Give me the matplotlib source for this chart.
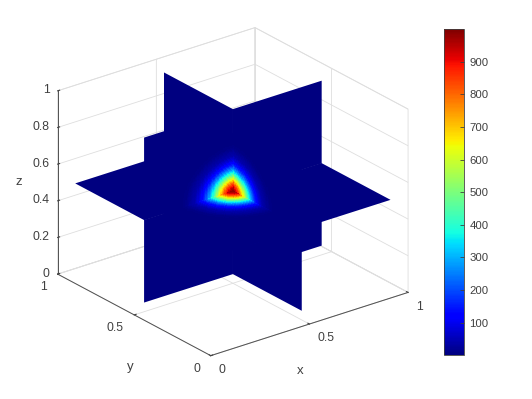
from matplotlib import pyplot as plt
from matplotlib.cm import ScalarMappable
from matplotlib.colors import Normalize
import numpy as np

plt.rcParams['font.family'] = ['Liberation Sans', 'DejaVu Sans']
plt.rcParams['font.size'] = 8.8

# field value against distance from the centre
dist = [0.0, 0.025, 0.05, 0.075, 0.1, 0.125, 0.15, 0.175, 0.2, 0.25, 0.3, 0.8]
field = [1000, 950, 815, 630, 440, 280, 160, 85, 40, 6, 1, 1]

# slice planes and the extent of the data
slice_pos = 0.5
lo = 0.05
hi = 0.95

x_ticks = [0, 0.5, 1]
y_ticks = [0, 0.5, 1]
z_ticks = [0, 0.2, 0.4, 0.6, 0.8, 1]
cbar_ticks = [100, 200, 300, 400, 500, 600, 700, 800, 900]

W, H = 532, 399
TXT = '#404040'
GRID = '#dedede'

norm = Normalize(1, 1000)
cmap = plt.get_cmap('jet')

fig = plt.figure(figsize=(W / 100, H / 100), dpi=100)
side = 398
ax = fig.add_axes([(227.5 - side / 2) / W, (H - 197 - side / 2) / H, side / W, side / H],
                  projection='3d', proj_type='ortho', computed_zorder=False)
ax.view_init(elev=24.4, azim=-127.8)
ax.set_box_aspect((1, 1, 0.806), zoom=0.9915)
ax.set_xlim(0, 1, view_margin=0)
ax.set_ylim(0, 1, view_margin=0)
ax.set_zlim(0, 1, view_margin=0)


def plane_coords(axis, a, b):
	A, B = np.meshgrid(a, b)
	P = np.full(A.shape, slice_pos)
	if axis == 'x':
		return P, A, B
	if axis == 'y':
		return A, P, B
	return A, B, P


def draw_quadrant(axis, a_range, b_range, order):
	# one quarter of a slice plane, a and b are the two free coordinates
	X, Y, Z = plane_coords(axis, a_range, b_range)
	base = cmap(norm(field[-1]))
	ax.plot_surface(X, Y, Z, color=base, shade=False, linewidth=0, antialiased=True, zorder=order)
	# finer cells only near the centre, further out the field is flat
	a0 = max(a_range[0], slice_pos - dist[-2])
	a1 = min(a_range[1], slice_pos + dist[-2])
	b0 = max(b_range[0], slice_pos - dist[-2])
	b1 = min(b_range[1], slice_pos + dist[-2])
	X, Y, Z = plane_coords(axis, np.linspace(a0, a1, 45), np.linspace(b0, b1, 45))
	r = np.sqrt((X - slice_pos) ** 2 + (Y - slice_pos) ** 2 + (Z - slice_pos) ** 2)
	r = 0.25 * (r[:-1, :-1] + r[1:, :-1] + r[:-1, 1:] + r[1:, 1:])
	colors = cmap(norm(np.interp(r, dist, field)))
	surf = ax.plot_surface(X, Y, Z, facecolors=colors, rstride=1, cstride=1, shade=False,
	                       linewidth=0.5, antialiased=False, zorder=order)
	surf.set_edgecolor(colors.reshape(-1, 4))


# camera looks from low x, low y, high z: quarters with more near sides go last
low = (lo, slice_pos)
high = (slice_pos, hi)
pieces = []
for axis in 'xyz':
	for a_range in (low, high):
		for b_range in (low, high):
			if axis == 'z':
				count = (a_range is low) + (b_range is low)
			else:
				count = (a_range is low) + (b_range is high)
			pieces.append((count, axis, a_range, b_range))
for count, axis, a_range, b_range in sorted(pieces, key=lambda p: p[0]):
	draw_quadrant(axis, a_range, b_range, 5 + count)

ax.set_xticks(x_ticks)
ax.set_yticks(y_ticks)
ax.set_zticks(z_ticks)
ax.set_xticklabels(['0', '0.5', '1'], ha='left', va='center')
ax.set_yticklabels(['0', '0.5', '1'], ha='right', va='center')
ax.set_zticklabels(['0', '0.2', '0.4', '0.6', '0.8', '1'], ha='right', va='center')

fig.text(300 / W, 1 - 371 / H, 'x', color=TXT, fontsize=9.5, ha='center', va='center')
fig.text(130 / W, 1 - 367 / H, 'y', color=TXT, fontsize=9.5, ha='center', va='center')
fig.text(19 / W, 1 - 182 / H, 'z', color=TXT, fontsize=9.5, ha='center', va='center')

for a in (ax.xaxis, ax.yaxis, ax.zaxis):
	a.set_pane_color((1, 1, 1, 1))
	a.pane.set_edgecolor(GRID)
	a.pane.set_linewidth(0.6)
	a.line.set_color('#505050')
	a.line.set_linewidth(0.7)
	a._axinfo['grid']['color'] = GRID
	a._axinfo['grid']['linewidth'] = 0.6
	a._axinfo['tick']['inward_factor'] = 0.0
	a._axinfo['tick']['outward_factor'] = 0.12
ax.tick_params(axis='x', colors=TXT, pad=0, width=0.6, length=2)
ax.tick_params(axis='y', colors=TXT, pad=0, width=0.6, length=2)
ax.tick_params(axis='z', colors=TXT, pad=-4.5, width=0.6)

# colorbar
cax = fig.add_axes([444 / W, (H - 355) / H, 20 / W, 326 / H])
cb = fig.colorbar(ScalarMappable(norm=norm, cmap=cmap), cax=cax)
cb.set_ticks(cbar_ticks)
cb.ax.tick_params(direction='in', length=3, width=0.6, colors=TXT, pad=4, labelsize=8.2)
cb.outline.set_edgecolor('#404040')
cb.outline.set_linewidth(0.6)

fig.savefig('out.png', dpi=100)
plt.close('all')
